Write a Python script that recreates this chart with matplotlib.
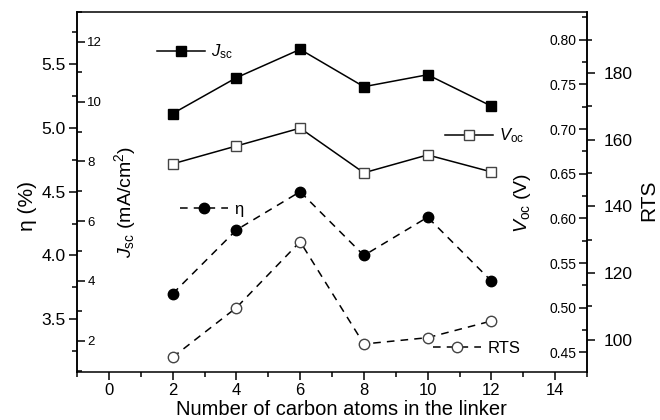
import matplotlib.pyplot as plt
from matplotlib.ticker import MultipleLocator, FormatStrFormatter

plt.rcParams["font.family"] = ["Liberation Sans", "DejaVu Sans"]
plt.rcParams["mathtext.fontset"] = "custom"
plt.rcParams["mathtext.rm"] = "Liberation Sans"
plt.rcParams["mathtext.it"] = "Liberation Sans:italic"

carbon_atoms = [2, 4, 6, 8, 10, 12]
jsc = [9.6, 10.8, 11.75, 10.5, 10.9, 9.85]
voc = [0.661, 0.681, 0.701, 0.651, 0.671, 0.652]
eta = [3.7, 4.2, 4.5, 4.0, 4.3, 3.8]
rts = [94.7, 109.6, 129.4, 98.7, 100.6, 105.6]

LW = 1.1
DASH = (0, (5, 4))
OPEN_EDGE = "#444444"

fig = plt.figure(figsize=(6.6, 4.2), dpi=100)
ax = fig.add_axes([77 / 660, 48 / 420, 510 / 660, 360 / 420])
ax_j = ax.twinx()
ax_v = ax.twinx()
ax_r = ax.twinx()

# efficiency on the main left axis
eta_line, = ax.plot(carbon_atoms, eta, color="black", lw=LW, linestyle=DASH,
                    marker="o", markersize=7.5, markerfacecolor="black",
                    markeredgecolor="black")
ax.set_xlim(-1, 15)
ax.set_ylim(3.087, 5.908)
ax.xaxis.set_major_locator(MultipleLocator(2))
ax.xaxis.set_minor_locator(MultipleLocator(1))
ax.yaxis.set_major_locator(MultipleLocator(0.5))
ax.yaxis.set_minor_locator(MultipleLocator(0.25))
ax.yaxis.set_major_formatter(FormatStrFormatter("%.1f"))
ax.tick_params(axis="both", which="major", direction="out", length=6, width=LW)
ax.tick_params(axis="both", which="minor", direction="out", length=3.5, width=LW)
ax.tick_params(axis="y", which="major", pad=2, labelsize=12.5)
ax.tick_params(axis="x", which="major", pad=2, labelsize=12)
ax.spines["right"].set_visible(False)
for side in ("left", "bottom", "top"):
    ax.spines[side].set_linewidth(LW)

# Jsc: right-hand ticks placed on the left spine, so they point inward
jsc_line, = ax_j.plot(carbon_atoms, jsc, color="black", lw=LW, marker="s",
                      markersize=7.5, markerfacecolor="black",
                      markeredgecolor="black")
ax_j.set_ylim(0.95, 13.0)
ax_j.spines["right"].set_position(("axes", 0.0))
for side in ("left", "top", "bottom"):
    ax_j.spines[side].set_visible(False)
ax_j.spines["right"].set_linewidth(LW)
ax_j.yaxis.set_major_locator(MultipleLocator(2))
ax_j.yaxis.set_minor_locator(MultipleLocator(1))
ax_j.tick_params(axis="y", which="major", direction="out", length=6, width=LW,
                 labelsize=9.5, pad=1.5)
ax_j.tick_params(axis="y", which="minor", direction="out", length=3.5, width=LW)

# Voc: left-hand ticks placed on the right spine, so they point inward
voc_line, = ax_v.plot(carbon_atoms, voc, color="black", lw=LW, marker="s",
                      markersize=7.5, markerfacecolor="white",
                      markeredgecolor=OPEN_EDGE)
ax_v.set_ylim(0.428, 0.831)
ax_v.yaxis.tick_left()
ax_v.yaxis.set_label_position("left")
ax_v.spines["left"].set_position(("axes", 1.0))
for side in ("right", "top", "bottom"):
    ax_v.spines[side].set_visible(False)
ax_v.spines["left"].set_linewidth(LW)
ax_v.yaxis.set_major_locator(MultipleLocator(0.05))
ax_v.yaxis.set_minor_locator(MultipleLocator(0.025))
ax_v.yaxis.set_major_formatter(FormatStrFormatter("%.2f"))
ax_v.tick_params(axis="y", which="major", direction="out", length=6, width=LW,
                 labelsize=10, pad=1.5)
ax_v.tick_params(axis="y", which="minor", direction="out", length=3.5, width=LW)

# RTS on the outer right axis
rts_line, = ax_r.plot(carbon_atoms, rts, color="black", lw=LW, linestyle=DASH,
                      marker="o", markersize=7.5, markerfacecolor="white",
                      markeredgecolor=OPEN_EDGE)
ax_r.set_ylim(90.3, 198.3)
for side in ("left", "top", "bottom"):
    ax_r.spines[side].set_visible(False)
ax_r.spines["right"].set_linewidth(LW)
ax_r.yaxis.set_major_locator(MultipleLocator(20))
ax_r.yaxis.set_minor_locator(MultipleLocator(10))
ax_r.tick_params(axis="y", which="major", direction="out", length=6, width=LW,
                 labelsize=12.5, pad=6)
ax_r.tick_params(axis="y", which="minor", direction="out", length=3.5, width=LW)

# axis titles
ax.set_xlabel("Number of carbon atoms in the linker", fontsize=14.5, va="top")
ax.xaxis.set_label_coords(0.5186, -0.0765)
ax.set_ylabel("η (%)", fontsize=15, va="center")
ax.yaxis.set_label_coords(-0.098, 0.461)
ax_j.set_ylabel("$J_{\\mathrm{sc}}$ (mA/cm$^2$)", fontsize=14, va="center")
ax_j.yaxis.set_label_coords(0.094, 0.472)
ax_v.set_ylabel("$V_{\\mathrm{oc}}$ (V)", fontsize=14, va="center")
ax_v.yaxis.set_label_coords(0.8745, 0.469)
ax_r.set_ylabel("RTS", fontsize=15, va="center")
ax_r.yaxis.set_label_coords(1.1216, 0.478)

legend_style = dict(loc="center left", frameon=False, fontsize=12,
                    handlelength=2.9, borderpad=0, borderaxespad=0,
                    handletextpad=0.35)
ax_j.legend([jsc_line], ["$J_{\\mathrm{sc}}$"], bbox_to_anchor=(0.157, 0.889),
            **legend_style)
ax_v.legend([voc_line], ["$V_{\\mathrm{oc}}$"], bbox_to_anchor=(0.7216, 0.656),
            **legend_style)
ax.legend([eta_line], ["η"], bbox_to_anchor=(0.202, 0.452), **legend_style)
ax_r.legend([rts_line], ["RTS"], bbox_to_anchor=(0.698, 0.066), **legend_style)

fig.savefig("out.png", dpi=100)
